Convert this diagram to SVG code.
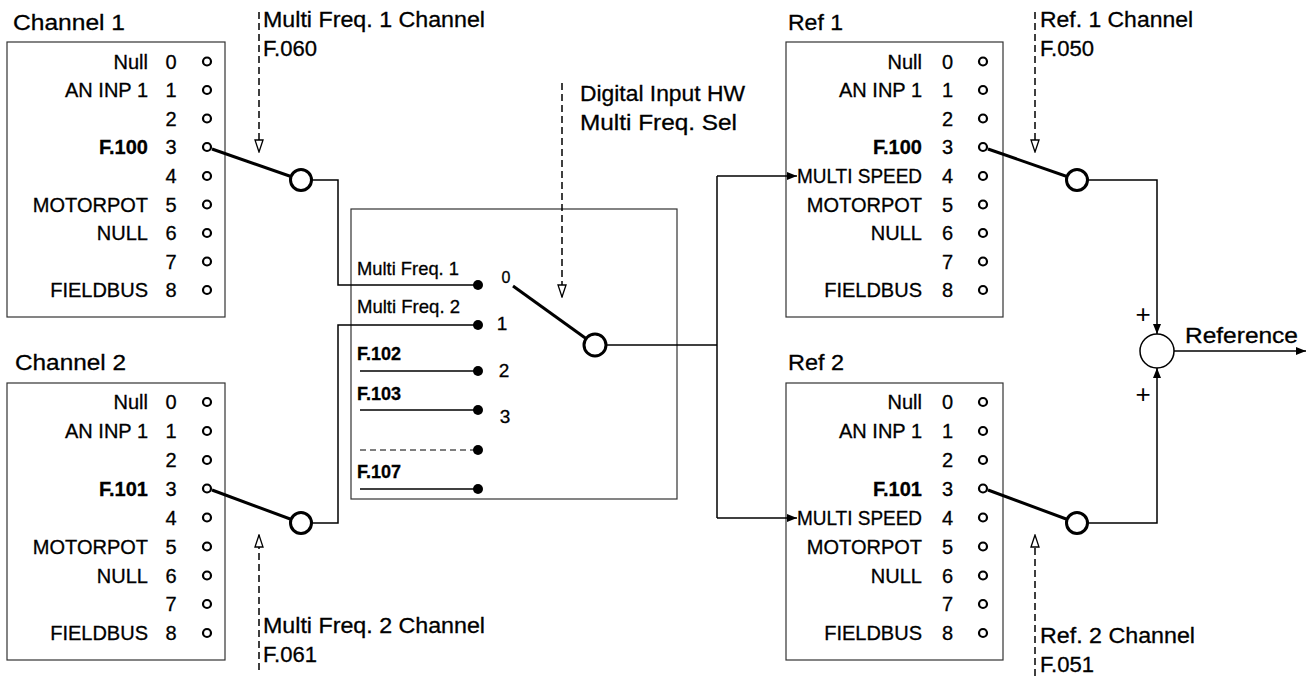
<svg xmlns="http://www.w3.org/2000/svg" width="1308" height="676" viewBox="0 0 1308 676">
<style>
text{font-family:"Liberation Sans",Arial,sans-serif;fill:#000;stroke:#000;stroke-width:0.3}
.box{fill:#fff;stroke:#333;stroke-width:1.2}
.ttl{font-size:22px}
.lbl{font-size:20px;text-anchor:end}
.lblb{font-size:20px;font-weight:bold;text-anchor:end}
.dig{font-size:20px;text-anchor:middle}
.o{fill:#fff;stroke:#000;stroke-width:2.2}
.ln{fill:none;stroke:#000;stroke-width:1.5}
.lev{fill:none;stroke:#000;stroke-width:3}
.sw{fill:#fff;stroke:#000;stroke-width:3}
.dash{fill:none;stroke:#000;stroke-width:1.5;stroke-dasharray:7 4}
.mid{font-size:19px}
.midb{font-size:18px;font-weight:bold}
.md{font-size:19px;text-anchor:middle}
.dot{fill:#000}
</style>
<defs>
<marker id="arr" viewBox="0 0 10 8" refX="10" refY="4" markerWidth="10" markerHeight="8" orient="auto" markerUnits="userSpaceOnUse"><path d="M0,0 L10,4 L0,8 z" fill="#000"/></marker>
<marker id="open" viewBox="0 0 14 10" refX="13" refY="5" markerWidth="14" markerHeight="10" orient="auto" markerUnits="userSpaceOnUse"><path d="M1,1 L13,5 L1,9 z" fill="#fff" stroke="#000" stroke-width="1.3" stroke-dasharray="none"/></marker>
</defs>
<rect width="1308" height="676" fill="#fff"/>

<g id="channel1">
<text class="ttl" x="13" y="30" textLength="112" lengthAdjust="spacingAndGlyphs">Channel 1</text>
<rect class="box" x="7" y="42" width="218" height="275"/>
<text class="lbl" x="148" y="68.5">Null</text><text class="dig" x="171" y="68.5">0</text><circle class="o" cx="207" cy="61.5" r="4"/>
<text class="lbl" x="148" y="97">AN INP 1</text><text class="dig" x="171" y="97">1</text><circle class="o" cx="207" cy="90" r="4"/>
<text class="dig" x="171" y="125.5">2</text><circle class="o" cx="207" cy="118.5" r="4"/>
<text class="lblb" x="148" y="154">F.100</text><text class="dig" x="171" y="154">3</text><circle class="o" cx="207" cy="147" r="4"/>
<text class="dig" x="171" y="183">4</text><circle class="o" cx="207" cy="176" r="4"/>
<text class="lbl" x="148" y="211.5">MOTORPOT</text><text class="dig" x="171" y="211.5">5</text><circle class="o" cx="207" cy="204.5" r="4"/>
<text class="lbl" x="148" y="240">NULL</text><text class="dig" x="171" y="240">6</text><circle class="o" cx="207" cy="233" r="4"/>
<text class="dig" x="171" y="268.5">7</text><circle class="o" cx="207" cy="261.5" r="4"/>
<text class="lbl" x="148" y="297">FIELDBUS</text><text class="dig" x="171" y="297">8</text><circle class="o" cx="207" cy="290" r="4"/>
</g>

<g id="channel2">
<text class="ttl" x="15" y="370" textLength="111" lengthAdjust="spacingAndGlyphs">Channel 2</text>
<rect class="box" x="7" y="383" width="218" height="277"/>
<text class="lbl" x="148" y="409">Null</text><text class="dig" x="171" y="409">0</text><circle class="o" cx="207" cy="402" r="4"/>
<text class="lbl" x="148" y="438">AN INP 1</text><text class="dig" x="171" y="438">1</text><circle class="o" cx="207" cy="431" r="4"/>
<text class="dig" x="171" y="467">2</text><circle class="o" cx="207" cy="460" r="4"/>
<text class="lblb" x="148" y="495.5">F.101</text><text class="dig" x="171" y="495.5">3</text><circle class="o" cx="207" cy="488.5" r="4"/>
<text class="dig" x="171" y="524.5">4</text><circle class="o" cx="207" cy="517.5" r="4"/>
<text class="lbl" x="148" y="553.5">MOTORPOT</text><text class="dig" x="171" y="553.5">5</text><circle class="o" cx="207" cy="546.5" r="4"/>
<text class="lbl" x="148" y="582.5">NULL</text><text class="dig" x="171" y="582.5">6</text><circle class="o" cx="207" cy="575.5" r="4"/>
<text class="dig" x="171" y="611">7</text><circle class="o" cx="207" cy="604" r="4"/>
<text class="lbl" x="148" y="640">FIELDBUS</text><text class="dig" x="171" y="640">8</text><circle class="o" cx="207" cy="633" r="4"/>
</g>

<g id="ref1">
<text class="ttl" x="788" y="30" textLength="55" lengthAdjust="spacingAndGlyphs">Ref 1</text>
<rect class="box" x="786" y="42" width="217" height="275"/>
<text class="lbl" x="922" y="68.5">Null</text><text class="dig" x="947.5" y="68.5">0</text><circle class="o" cx="983" cy="61.5" r="4"/>
<text class="lbl" x="922" y="97">AN INP 1</text><text class="dig" x="947.5" y="97">1</text><circle class="o" cx="983" cy="90" r="4"/>
<text class="dig" x="947.5" y="125.5">2</text><circle class="o" cx="983" cy="118.5" r="4"/>
<text class="lblb" x="922" y="154">F.100</text><text class="dig" x="947.5" y="154">3</text><circle class="o" cx="983" cy="147" r="4"/>
<text class="lbl" x="922" y="183" textLength="125" lengthAdjust="spacingAndGlyphs">MULTI SPEED</text><text class="dig" x="947.5" y="183">4</text><circle class="o" cx="983" cy="176" r="4"/>
<text class="lbl" x="922" y="211.5">MOTORPOT</text><text class="dig" x="947.5" y="211.5">5</text><circle class="o" cx="983" cy="204.5" r="4"/>
<text class="lbl" x="922" y="240">NULL</text><text class="dig" x="947.5" y="240">6</text><circle class="o" cx="983" cy="233" r="4"/>
<text class="dig" x="947.5" y="268.5">7</text><circle class="o" cx="983" cy="261.5" r="4"/>
<text class="lbl" x="922" y="297">FIELDBUS</text><text class="dig" x="947.5" y="297">8</text><circle class="o" cx="983" cy="290" r="4"/>
</g>

<g id="ref2">
<text class="ttl" x="788" y="370" textLength="56" lengthAdjust="spacingAndGlyphs">Ref 2</text>
<rect class="box" x="786" y="383" width="217" height="277"/>
<text class="lbl" x="922" y="409">Null</text><text class="dig" x="947.5" y="409">0</text><circle class="o" cx="983" cy="402" r="4"/>
<text class="lbl" x="922" y="438">AN INP 1</text><text class="dig" x="947.5" y="438">1</text><circle class="o" cx="983" cy="431" r="4"/>
<text class="dig" x="947.5" y="467">2</text><circle class="o" cx="983" cy="460" r="4"/>
<text class="lblb" x="922" y="495.5">F.101</text><text class="dig" x="947.5" y="495.5">3</text><circle class="o" cx="983" cy="488.5" r="4"/>
<text class="lbl" x="922" y="524.5" textLength="125" lengthAdjust="spacingAndGlyphs">MULTI SPEED</text><text class="dig" x="947.5" y="524.5">4</text><circle class="o" cx="983" cy="517.5" r="4"/>
<text class="lbl" x="922" y="553.5">MOTORPOT</text><text class="dig" x="947.5" y="553.5">5</text><circle class="o" cx="983" cy="546.5" r="4"/>
<text class="lbl" x="922" y="582.5">NULL</text><text class="dig" x="947.5" y="582.5">6</text><circle class="o" cx="983" cy="575.5" r="4"/>
<text class="dig" x="947.5" y="611">7</text><circle class="o" cx="983" cy="604" r="4"/>
<text class="lbl" x="922" y="640">FIELDBUS</text><text class="dig" x="947.5" y="640">8</text><circle class="o" cx="983" cy="633" r="4"/>
</g>

<g id="selector">
<rect class="box" x="351" y="209" width="326" height="290"/>
<text class="mid" x="357" y="275" textLength="102" lengthAdjust="spacingAndGlyphs">Multi Freq. 1</text>
<text class="mid" x="357" y="313" textLength="103" lengthAdjust="spacingAndGlyphs">Multi Freq. 2</text>
<text class="midb" x="357" y="360">F.102</text>
<text class="midb" x="357" y="400">F.103</text>
<text class="midb" x="357" y="478">F.107</text>
<line class="ln" x1="360" y1="371" x2="478" y2="371"/>
<line class="ln" x1="360" y1="410" x2="478" y2="410"/>
<line x1="360" y1="450" x2="478" y2="450" stroke="#000" stroke-width="1.2" stroke-dasharray="6 4"/>
<line class="ln" x1="360" y1="489" x2="478" y2="489"/>
<circle class="dot" cx="478" cy="285" r="5"/>
<circle class="dot" cx="478" cy="325" r="5"/>
<circle class="dot" cx="478" cy="371" r="5"/>
<circle class="dot" cx="478" cy="410" r="5"/>
<circle class="dot" cx="478" cy="450" r="5"/>
<circle class="dot" cx="478" cy="489" r="5"/>
<text class="md" x="506" y="283" style="font-size:16px">0</text>
<text class="md" x="502" y="330">1</text>
<text class="md" x="504" y="377">2</text>
<text class="md" x="505" y="423">3</text>
<line class="lev" x1="513" y1="286" x2="595" y2="345"/>
<circle class="sw" cx="595" cy="345" r="11"/>
</g>

<g id="sum">
<circle cx="1157" cy="351" r="17" fill="#fff" stroke="#000" stroke-width="1.5"/>
<text x="1143" y="323" text-anchor="middle" style="font-size:26px;stroke-width:0">+</text>
<text x="1143" y="403" text-anchor="middle" style="font-size:26px;stroke-width:0">+</text>
<text class="ttl" x="1185" y="343" textLength="113" lengthAdjust="spacingAndGlyphs">Reference</text>
</g>

<g id="params">
<text class="ttl" x="263" y="27" textLength="222" lengthAdjust="spacingAndGlyphs">Multi Freq. 1 Channel</text>
<text class="ttl" x="263" y="56" textLength="54" lengthAdjust="spacingAndGlyphs">F.060</text>
<text class="ttl" x="263" y="633" textLength="222" lengthAdjust="spacingAndGlyphs">Multi Freq. 2 Channel</text>
<text class="ttl" x="263" y="662" textLength="54" lengthAdjust="spacingAndGlyphs">F.061</text>
<text class="ttl" x="580" y="101" textLength="165" lengthAdjust="spacingAndGlyphs">Digital Input HW</text>
<text class="ttl" x="580" y="130" textLength="157" lengthAdjust="spacingAndGlyphs">Multi Freq. Sel</text>
<text class="ttl" x="1040" y="27" textLength="153" lengthAdjust="spacingAndGlyphs">Ref. 1 Channel</text>
<text class="ttl" x="1040" y="56" textLength="54" lengthAdjust="spacingAndGlyphs">F.050</text>
<text class="ttl" x="1040" y="643" textLength="155" lengthAdjust="spacingAndGlyphs">Ref. 2 Channel</text>
<text class="ttl" x="1040" y="672" textLength="54" lengthAdjust="spacingAndGlyphs">F.051</text>
</g>

<g id="connectors">
<line class="lev" x1="212" y1="149" x2="301" y2="180"/>
<line class="lev" x1="212" y1="490" x2="301" y2="523"/>
<line class="lev" x1="988" y1="149" x2="1077" y2="180"/>
<line class="lev" x1="988" y1="490" x2="1077" y2="523"/>
<polyline class="ln" points="311,180 338,180 338,285 478,285"/>
<polyline class="ln" points="312,523 338,523 338,325 478,325"/>
<line class="ln" x1="606" y1="345" x2="717" y2="345"/>
<line class="ln" x1="717" y1="176" x2="717" y2="518"/>
<line class="ln" x1="717" y1="176" x2="797" y2="176" marker-end="url(#arr)"/>
<line class="ln" x1="717" y1="518" x2="797" y2="518" marker-end="url(#arr)"/>
<polyline class="ln" points="1088,180 1157,180 1157,334" marker-end="url(#arr)"/>
<polyline class="ln" points="1088,523 1157,523 1157,368" marker-end="url(#arr)"/>
<line class="ln" x1="1174" y1="351" x2="1306" y2="351" marker-end="url(#arr)"/>
<line class="dash" x1="259" y1="12" x2="259" y2="152" marker-end="url(#open)"/>
<line class="dash" x1="259" y1="670" x2="259" y2="535" marker-end="url(#open)"/>
<line class="dash" x1="562" y1="83" x2="562" y2="297" marker-end="url(#open)"/>
<line class="dash" x1="1035" y1="12" x2="1035" y2="152" marker-end="url(#open)"/>
<line class="dash" x1="1035" y1="676" x2="1035" y2="535" marker-end="url(#open)"/>
<circle class="sw" cx="301" cy="180" r="10.5"/>
<circle class="sw" cx="301" cy="523" r="10.5"/>
<circle class="sw" cx="1077" cy="180" r="10.5"/>
<circle class="sw" cx="1077" cy="523" r="10.5"/>
</g>
</svg>
